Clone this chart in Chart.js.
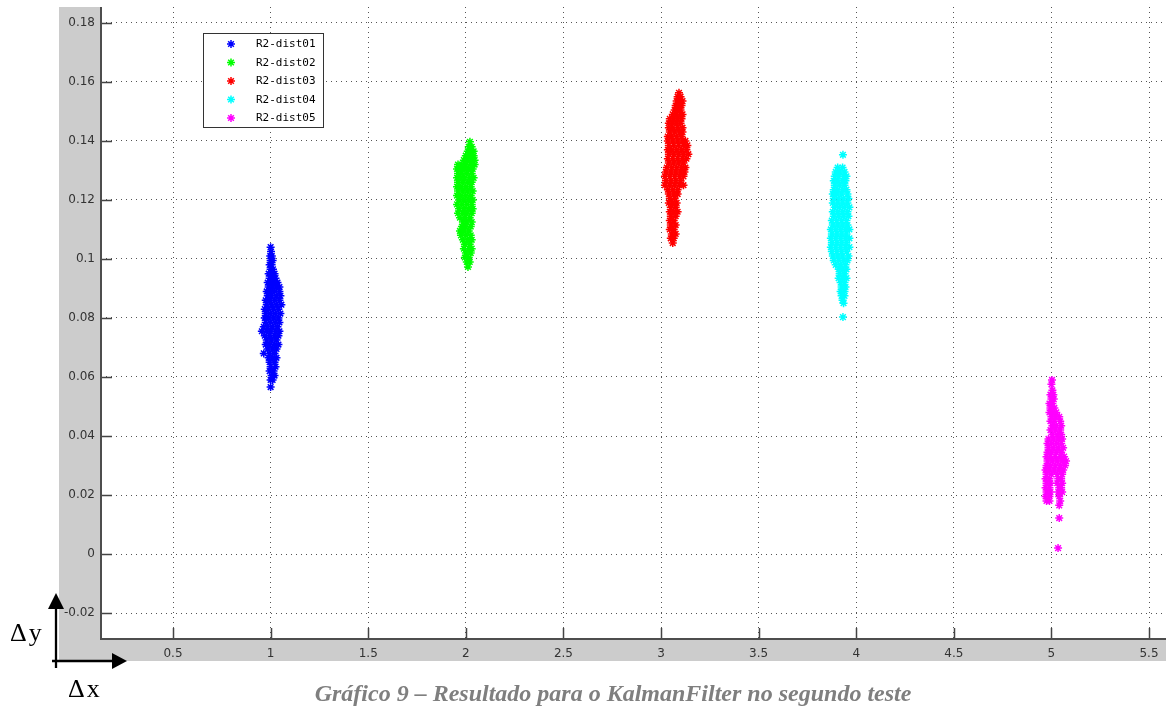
<!DOCTYPE html>
<html lang="pt">
<head>
  <meta charset="UTF-8">
  <title>Gráfico 9 - KalmanFilter</title>
  <script src="https://cdn.jsdelivr.net/npm/chart.js@4.4.1/dist/chart.umd.min.js"></script>
  <style>
    body {
      margin: 0;
      padding: 0;
      background-color: #ffffff;
      overflow: hidden;
    }
    #wrap {
      position: relative;
      width: 1166px;
      height: 708px;
    }
    canvas {
      position: absolute;
      left: 0;
      top: 0;
    }
    .delta {
      position: absolute;
      font-family: "Liberation Serif", serif;
      font-size: 26px;
      line-height: 26px;
      letter-spacing: 2px;
      color: #000;
    }
    #caption {
      position: absolute;
      left: 0;
      width: 1226px;
      top: 681px;
      text-align: center;
      font-family: "Liberation Serif", serif;
      font-weight: bold;
      font-style: italic;
      font-size: 24px;
      line-height: 24px;
      color: #7f7f7f;
    }
    svg {
      position: absolute;
      left: 0;
      top: 0;
    }
  </style>
</head>
<body>
  <div id="wrap">
    <canvas id="kalmanChart" width="1166" height="708"></canvas>
    <svg width="1166" height="708">
      <line x1="56" y1="668" x2="56" y2="605" stroke="#000" stroke-width="2.3"/>
      <polygon points="56,593 48,609 64,609" fill="#000"/>
      <line x1="52" y1="661" x2="114" y2="661" stroke="#000" stroke-width="2.3"/>
      <polygon points="127,661 112,653 112,669" fill="#000"/>
    </svg>
    <div class="delta" style="left:10px; top:620px;">Δy</div>
    <div class="delta" style="left:68px; top:676px;">Δx</div>
    <div id="caption">Gráfico 9 – Resultado para o KalmanFilter no segundo teste</div>
  </div>

  <script>
    // tick values
    const xTicks = [0.5, 1, 1.5, 2, 2.5, 3, 3.5, 4, 4.5, 5, 5.5];
    const yTicks = [-0.02, 0, 0.02, 0.04, 0.06, 0.08, 0.1, 0.12, 0.14, 0.16, 0.18];

    const seriesNames = ['R2-dist01', 'R2-dist02', 'R2-dist03', 'R2-dist04', 'R2-dist05'];
    const seriesColors = ['#0000ff', '#00ff00', '#ff0000', '#00ffff', '#ff00ff'];

    // [dx, dy] pairs, one line per dy level
    const dist01 = [
      [1.0, 0.104],
      [1.002, 0.1025],
      [0.998, 0.101], [1.006, 0.101],
      [1.0, 0.0995], [1.01, 0.0995],
      [0.995, 0.098], [1.005, 0.098],
      [1.0, 0.0965], [1.012, 0.0965],
      [0.99, 0.095], [1.005, 0.095], [1.02, 0.095],
      [0.995, 0.0935], [1.01, 0.0935], [1.025, 0.0935],
      [0.985, 0.092], [1.0, 0.092], [1.02, 0.092], [1.035, 0.092],
      [0.99, 0.0905], [1.01, 0.0905], [1.03, 0.0905], [1.045, 0.0905],
      [0.98, 0.089], [1.0, 0.089], [1.02, 0.089], [1.045, 0.089],
      [0.985, 0.0875], [1.005, 0.0875], [1.03, 0.0875], [1.05, 0.0875],
      [0.975, 0.086], [0.995, 0.086], [1.02, 0.086], [1.045, 0.086],
      [0.98, 0.0845], [1.005, 0.0845], [1.03, 0.0845], [1.055, 0.0845],
      [0.97, 0.083], [0.99, 0.083], [1.015, 0.083], [1.04, 0.083],
      [0.975, 0.0815], [1.0, 0.0815], [1.025, 0.0815], [1.05, 0.0815],
      [0.97, 0.08], [0.99, 0.08], [1.015, 0.08], [1.04, 0.08],
      [0.975, 0.0785], [1.0, 0.0785], [1.025, 0.0785], [1.045, 0.0785],
      [0.965, 0.077], [0.985, 0.077], [1.01, 0.077], [1.035, 0.077],
      [0.955, 0.0755], [0.98, 0.0755], [1.0, 0.0755], [1.025, 0.0755], [1.045, 0.0755],
      [0.97, 0.074], [0.995, 0.074], [1.02, 0.074], [1.04, 0.074],
      [0.98, 0.0725], [1.005, 0.0725], [1.03, 0.0725],
      [0.975, 0.071], [0.995, 0.071], [1.02, 0.071], [1.04, 0.071],
      [0.985, 0.0695], [1.01, 0.0695], [1.03, 0.0695],
      [0.965, 0.068], [0.995, 0.068], [1.02, 0.068],
      [0.99, 0.0665], [1.01, 0.0665], [1.03, 0.0665],
      [0.995, 0.065], [1.02, 0.065],
      [1.0, 0.0635], [1.025, 0.0635],
      [0.995, 0.062], [1.015, 0.062],
      [1.005, 0.0605], [1.02, 0.0605],
      [1.0, 0.059], [1.01, 0.059],
      [1.0, 0.0566]
    ];
    const dist02 = [
      [2.021, 0.1397],
      [2.015, 0.138], [2.03, 0.138],
      [2.01, 0.1365], [2.025, 0.1365], [2.04, 0.1365],
      [2.0, 0.135], [2.02, 0.135], [2.04, 0.135],
      [1.99, 0.1335], [2.01, 0.1335], [2.03, 0.1335], [2.045, 0.1335],
      [1.96, 0.132], [1.98, 0.132], [2.0, 0.132], [2.025, 0.132], [2.045, 0.132],
      [1.955, 0.1305], [1.975, 0.1305], [1.995, 0.1305], [2.015, 0.1305], [2.035, 0.1305],
      [1.96, 0.129], [1.98, 0.129], [2.005, 0.129], [2.03, 0.129],
      [1.955, 0.1275], [1.975, 0.1275], [1.995, 0.1275], [2.02, 0.1275], [2.04, 0.1275],
      [1.96, 0.126], [1.985, 0.126], [2.01, 0.126], [2.03, 0.126],
      [1.955, 0.1245], [1.975, 0.1245], [2.0, 0.1245], [2.025, 0.1245],
      [1.96, 0.123], [1.985, 0.123], [2.01, 0.123], [2.035, 0.123],
      [1.955, 0.1215], [1.975, 0.1215], [2.0, 0.1215], [2.025, 0.1215],
      [1.965, 0.12], [1.99, 0.12], [2.015, 0.12], [2.035, 0.12],
      [1.955, 0.1185], [1.98, 0.1185], [2.005, 0.1185], [2.03, 0.1185],
      [1.965, 0.117], [1.99, 0.117], [2.015, 0.117], [2.035, 0.117],
      [1.96, 0.1155], [1.985, 0.1155], [2.005, 0.1155], [2.03, 0.1155],
      [1.97, 0.114], [1.995, 0.114], [2.02, 0.114],
      [1.985, 0.1125], [2.005, 0.1125], [2.03, 0.1125],
      [1.98, 0.111], [2.0, 0.111], [2.025, 0.111],
      [1.97, 0.1095], [1.99, 0.1095], [2.015, 0.1095],
      [1.975, 0.108], [2.0, 0.108], [2.025, 0.108],
      [1.985, 0.1065], [2.01, 0.1065], [2.03, 0.1065],
      [1.995, 0.105], [2.02, 0.105],
      [1.99, 0.1035], [2.015, 0.1035], [2.03, 0.1035],
      [2.0, 0.102], [2.025, 0.102],
      [1.995, 0.1005], [2.015, 0.1005],
      [2.005, 0.099], [2.02, 0.099],
      [2.011, 0.0973]
    ];
    const dist03 = [
      [3.092, 0.1563],
      [3.085, 0.155], [3.1, 0.155],
      [3.08, 0.1535], [3.095, 0.1535], [3.11, 0.1535],
      [3.075, 0.152], [3.09, 0.152], [3.105, 0.152],
      [3.07, 0.1505], [3.085, 0.1505], [3.1, 0.1505],
      [3.06, 0.149], [3.08, 0.149], [3.1, 0.149], [3.11, 0.149],
      [3.045, 0.1475], [3.065, 0.1475], [3.085, 0.1475], [3.105, 0.1475],
      [3.04, 0.146], [3.06, 0.146], [3.08, 0.146], [3.1, 0.146],
      [3.04, 0.1445], [3.06, 0.1445], [3.085, 0.1445], [3.11, 0.1445],
      [3.045, 0.143], [3.07, 0.143], [3.095, 0.143], [3.11, 0.143],
      [3.035, 0.1415], [3.055, 0.1415], [3.08, 0.1415], [3.105, 0.1415],
      [3.035, 0.14], [3.06, 0.14], [3.085, 0.14], [3.11, 0.14], [3.125, 0.14],
      [3.04, 0.1385], [3.065, 0.1385], [3.09, 0.1385], [3.115, 0.1385], [3.135, 0.1385],
      [3.035, 0.137], [3.055, 0.137], [3.08, 0.137], [3.105, 0.137], [3.13, 0.137],
      [3.04, 0.1355], [3.065, 0.1355], [3.09, 0.1355], [3.115, 0.1355], [3.14, 0.1355],
      [3.035, 0.134], [3.06, 0.134], [3.085, 0.134], [3.11, 0.134], [3.13, 0.134],
      [3.04, 0.1325], [3.065, 0.1325], [3.09, 0.1325], [3.115, 0.1325],
      [3.03, 0.131], [3.055, 0.131], [3.08, 0.131], [3.105, 0.131], [3.125, 0.131],
      [3.025, 0.1295], [3.05, 0.1295], [3.075, 0.1295], [3.1, 0.1295], [3.12, 0.1295],
      [3.02, 0.128], [3.045, 0.128], [3.07, 0.128], [3.095, 0.128], [3.115, 0.128],
      [3.025, 0.1265], [3.05, 0.1265], [3.075, 0.1265], [3.1, 0.1265],
      [3.02, 0.125], [3.045, 0.125], [3.07, 0.125], [3.095, 0.125], [3.115, 0.125],
      [3.035, 0.1235], [3.06, 0.1235], [3.085, 0.1235],
      [3.04, 0.122], [3.065, 0.122], [3.085, 0.122],
      [3.045, 0.1205], [3.07, 0.1205],
      [3.04, 0.119], [3.06, 0.119], [3.08, 0.119],
      [3.05, 0.1175], [3.075, 0.1175],
      [3.045, 0.116], [3.065, 0.116], [3.085, 0.116],
      [3.05, 0.1145], [3.075, 0.1145],
      [3.045, 0.113], [3.065, 0.113],
      [3.05, 0.1115], [3.075, 0.1115],
      [3.045, 0.11], [3.065, 0.11],
      [3.055, 0.1085], [3.075, 0.1085],
      [3.05, 0.107], [3.065, 0.107],
      [3.06, 0.1054]
    ];
    const dist04 = [
      [3.932, 0.1353],
      [3.905, 0.131], [3.93, 0.131],
      [3.895, 0.1295], [3.915, 0.1295], [3.94, 0.1295],
      [3.89, 0.128], [3.91, 0.128], [3.935, 0.128], [3.95, 0.128],
      [3.885, 0.1265], [3.905, 0.1265], [3.93, 0.1265], [3.945, 0.1265],
      [3.89, 0.125], [3.915, 0.125], [3.94, 0.125],
      [3.885, 0.1235], [3.905, 0.1235], [3.93, 0.1235], [3.95, 0.1235],
      [3.88, 0.122], [3.9, 0.122], [3.925, 0.122], [3.955, 0.122],
      [3.885, 0.1205], [3.91, 0.1205], [3.935, 0.1205], [3.96, 0.1205],
      [3.88, 0.119], [3.905, 0.119], [3.93, 0.119], [3.955, 0.119],
      [3.89, 0.1175], [3.915, 0.1175], [3.94, 0.1175], [3.965, 0.1175],
      [3.88, 0.116], [3.905, 0.116], [3.93, 0.116], [3.955, 0.116],
      [3.885, 0.1145], [3.91, 0.1145], [3.935, 0.1145], [3.96, 0.1145],
      [3.875, 0.113], [3.9, 0.113], [3.925, 0.113], [3.95, 0.113],
      [3.88, 0.1115], [3.905, 0.1115], [3.93, 0.1115], [3.955, 0.1115],
      [3.87, 0.11], [3.895, 0.11], [3.92, 0.11], [3.945, 0.11], [3.965, 0.11],
      [3.875, 0.1085], [3.9, 0.1085], [3.925, 0.1085], [3.95, 0.1085],
      [3.87, 0.107], [3.895, 0.107], [3.92, 0.107], [3.945, 0.107], [3.965, 0.107],
      [3.875, 0.1055], [3.9, 0.1055], [3.925, 0.1055], [3.95, 0.1055],
      [3.87, 0.104], [3.895, 0.104], [3.92, 0.104], [3.945, 0.104], [3.965, 0.104],
      [3.875, 0.1025], [3.9, 0.1025], [3.925, 0.1025], [3.95, 0.1025],
      [3.88, 0.101], [3.905, 0.101], [3.93, 0.101], [3.96, 0.101],
      [3.885, 0.0995], [3.91, 0.0995], [3.935, 0.0995], [3.955, 0.0995],
      [3.895, 0.098], [3.92, 0.098], [3.945, 0.098],
      [3.91, 0.0965], [3.93, 0.0965], [3.95, 0.0965],
      [3.915, 0.095], [3.94, 0.095],
      [3.91, 0.0935], [3.93, 0.0935], [3.95, 0.0935],
      [3.92, 0.092], [3.94, 0.092],
      [3.925, 0.0905], [3.945, 0.0905],
      [3.92, 0.089], [3.94, 0.089],
      [3.925, 0.0875], [3.94, 0.0875],
      [3.93, 0.086],
      [3.935, 0.085],
      [3.932, 0.0803]
    ];
    const dist05 = [
      [5.003, 0.059],
      [5.0, 0.0575],
      [5.005, 0.0555],
      [4.995, 0.054], [5.01, 0.054],
      [5.0, 0.0525], [5.012, 0.0525],
      [4.99, 0.051], [5.005, 0.051],
      [4.995, 0.0495], [5.015, 0.0495],
      [4.99, 0.048], [5.005, 0.048], [5.025, 0.048],
      [5.0, 0.0465], [5.02, 0.0465], [5.04, 0.0465],
      [4.995, 0.045], [5.015, 0.045], [5.045, 0.045],
      [5.005, 0.0435], [5.025, 0.0435], [5.05, 0.0435],
      [4.995, 0.042], [5.02, 0.042], [5.045, 0.042],
      [5.005, 0.0405], [5.03, 0.0405], [5.05, 0.0405],
      [4.985, 0.039], [5.01, 0.039], [5.035, 0.039], [5.055, 0.039],
      [4.98, 0.0375], [5.0, 0.0375], [5.025, 0.0375], [5.05, 0.0375],
      [4.985, 0.036], [5.01, 0.036], [5.035, 0.036], [5.06, 0.036],
      [4.98, 0.0345], [5.0, 0.0345], [5.025, 0.0345], [5.05, 0.0345],
      [4.975, 0.033], [4.995, 0.033], [5.02, 0.033], [5.045, 0.033], [5.065, 0.033],
      [4.98, 0.0315], [5.005, 0.0315], [5.03, 0.0315], [5.055, 0.0315], [5.075, 0.0315],
      [4.975, 0.03], [4.995, 0.03], [5.02, 0.03], [5.045, 0.03], [5.07, 0.03],
      [4.97, 0.0285], [4.99, 0.0285], [5.015, 0.0285], [5.04, 0.0285], [5.06, 0.0285],
      [4.975, 0.027], [5.0, 0.027], [5.03, 0.027], [5.055, 0.027],
      [4.97, 0.0255], [4.99, 0.0255], [5.035, 0.0255], [5.05, 0.0255],
      [4.975, 0.024], [4.995, 0.024], [5.03, 0.024], [5.055, 0.024],
      [4.97, 0.0225], [4.99, 0.0225], [5.04, 0.0225], [5.05, 0.0225],
      [4.975, 0.021], [4.995, 0.021], [5.035, 0.021], [5.055, 0.021],
      [4.97, 0.0195], [4.99, 0.0195], [5.04, 0.0195],
      [4.975, 0.018], [4.99, 0.018], [5.045, 0.018],
      [5.04, 0.0165],
      [5.04, 0.0122],
      [5.034, 0.002]
    ];
    const allSeries = [dist01, dist02, dist03, dist04, dist05];

    // grey frame behind the axes, MATLAB style
    const frameBg = {
      id: 'frameBg',
      beforeDraw(chart) {
        const { ctx, chartArea: a } = chart;
        ctx.save();
        ctx.fillStyle = '#cccccc';
        ctx.fillRect(59, a.top, a.left - 59, 661 - a.top);
        ctx.fillRect(59, a.bottom, a.right - 59, 661 - a.bottom);
        ctx.fillStyle = '#ffffff';
        ctx.fillRect(a.left, a.top, a.right - a.left, a.bottom - a.top);
        ctx.restore();
      }
    };

    // axis lines, inward ticks and the boxed legend
    const axesAndLegend = {
      id: 'axesAndLegend',
      afterDraw(chart) {
        const { ctx, chartArea: a, scales } = chart;
        ctx.save();
        ctx.strokeStyle = '#444';
        ctx.lineWidth = 1.5;
        ctx.beginPath();
        xTicks.forEach(v => {
          const px = Math.round(scales.x.getPixelForValue(v)) + 0.5;
          ctx.moveTo(px, a.bottom);
          ctx.lineTo(px, a.bottom - 11);
        });
        yTicks.forEach(v => {
          const py = Math.round(scales.y.getPixelForValue(v)) + 0.5;
          ctx.moveTo(a.left, py);
          ctx.lineTo(a.left + 11, py);
        });
        ctx.stroke();

        ctx.lineWidth = 2;
        ctx.strokeStyle = '#4d4d4d';
        ctx.beginPath();
        ctx.moveTo(a.left, a.top);
        ctx.lineTo(a.left, a.bottom);
        ctx.lineTo(a.right, a.bottom);
        ctx.stroke();

        // legend
        const lx = 203.5, ly = 33.5, lw = 120, lh = 94;
        ctx.fillStyle = '#ffffff';
        ctx.fillRect(lx, ly, lw, lh);
        ctx.strokeStyle = '#333';
        ctx.lineWidth = 1;
        ctx.strokeRect(lx, ly, lw, lh);
        ctx.font = '11px "DejaVu Sans Mono", monospace';
        ctx.textBaseline = 'middle';
        ctx.textAlign = 'left';
        seriesNames.forEach((name, i) => {
          const ry = 44 + i * 18.5;
          ctx.strokeStyle = seriesColors[i];
          ctx.fillStyle = seriesColors[i];
          ctx.lineWidth = 1.5;
          Chart.helpers.drawPoint(ctx, {
            pointStyle: 'star', radius: 4, borderWidth: 1.5, rotation: 0
          }, 231, ry);
          ctx.fillStyle = '#000';
          ctx.fillText(name, 256, ry + 0.5);
        });
        ctx.restore();
      }
    };

    const datasets = allSeries.map((pts, i) => ({
      label: seriesNames[i],
      data: pts.map(p => ({ x: p[0], y: p[1] })),
      pointStyle: 'star',
      pointRadius: 4,
      borderWidth: 1.5,
      borderColor: seriesColors[i],
      backgroundColor: seriesColors[i],
      showLine: false
    }));

    const ctx = document.getElementById('kalmanChart').getContext('2d');
    const chart = new Chart(ctx, {
      type: 'scatter',
      data: { datasets },
      options: {
        responsive: false,
        animation: false,
        events: [],
        layout: { autoPadding: false, padding: { left: 0, right: 0, top: 7, bottom: 47 } },
        plugins: {
          legend: { display: false },
          tooltip: { enabled: false }
        },
        scales: {
          x: {
            type: 'linear',
            min: 0.131,
            max: 5.587,
            afterBuildTicks: s => { s.ticks = xTicks.map(v => ({ value: v })); },
            afterFit: s => { s.height = 22; s.paddingLeft = 0; s.paddingRight = 0; },
            ticks: {
              padding: 8,
              color: '#333',
              font: { family: 'DejaVu Sans', size: 12 },
              maxRotation: 0,
              callback: v => String(v)
            },
            grid: { color: '#555', lineWidth: 1, drawTicks: false },
            border: { display: false, dash: [1, 4] }
          },
          y: {
            type: 'linear',
            min: -0.0288,
            max: 0.1854,
            afterBuildTicks: s => { s.ticks = yTicks.map(v => ({ value: v })); },
            afterFit: s => { s.width = 101; s.paddingTop = 0; s.paddingBottom = 0; },
            ticks: {
              padding: 6,
              color: '#333',
              font: { family: 'DejaVu Sans', size: 12 },
              callback: v => String(v)
            },
            grid: { color: '#555', lineWidth: 1, drawTicks: false },
            border: { display: false, dash: [1, 4] }
          }
        }
      },
      plugins: [frameBg, axesAndLegend]
    });
  </script>
</body>
</html>
